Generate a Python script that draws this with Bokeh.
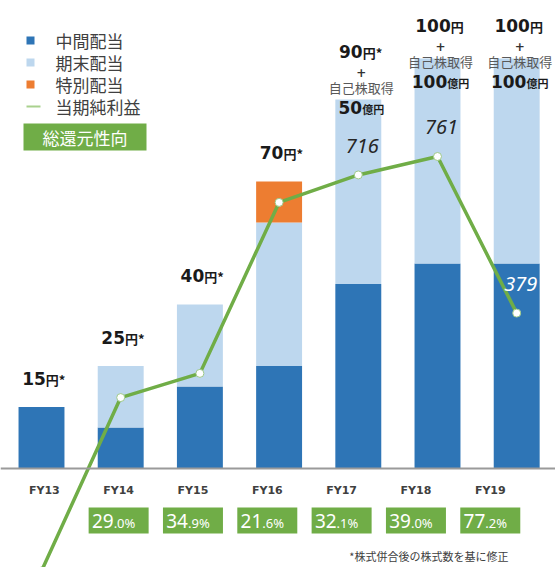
from bokeh.plotting import figure
from bokeh.models import ColumnDataSource, Range1d, Span
from bokeh.core.properties import value
from bokeh.embed import file_html
from bokeh.resources import INLINE

# ---------------- data ----------------
years = ["FY13", "FY14", "FY15", "FY16", "FY17", "FY18", "FY19"]
interim = [15, 10, 20, 25, 45, 50, 50]          # 中間配当 (円)
year_end = [0, 15, 20, 35, 45, 50, 50]          # 期末配当 (円)
special = [0, 0, 0, 10, 0, 0, 0]                # 特別配当 (円)
adjusted = [True, True, True, True, True, False, False]   # "*" 株式併合後修正
buyback = [0, 0, 0, 0, 50, 100, 100]            # 自己株取得 (億円)
net_profit = [-250, 173, 232, 649, 716, 761, 379]         # 当期純利益
net_profit_labels = ["", "", "", "", "716", "761", "379"]
payout = [None, 29.0, 34.9, 21.6, 32.1, 39.0, 77.2]       # 総還元性向 (%)
legend_labels = ["中間配当", "期末配当", "特別配当", "当期純利益"]
badge_label = "総還元性向"
buyback_label = "自己株取得"
footnote = "*株式併合後の株式数を基に修正"

# ---------------- style / layout ----------------
DARK, LIGHT, ORANGE, GREEN = "#2E75B6", "#BDD7EE", "#ED7D31", "#70AD47"
TXT = "#404040"
CJK = value("Noto Sans CJK JP")
BOLD_LAT = value("DejaVu Sans")
SANS = value("Noto Sans")

W, H = 555, 567
XS = 79.2            # px per category (bars)
X0 = -41 / XS
LS = 74.33           # px per category (labels row)
L0 = -43.8 / LS
YS = 4.1             # px per yen
BASE = 468           # px from top of y = 0
Y_END = BASE / YS
Y_START = -(H - BASE) / YS


def fx(px):
    return X0 + px / XS


def fy(px):
    return Y_END - px / YS


def dx(px):
    return px / XS


def dy(px):
    return px / YS


p = figure(width=W, height=H,
           x_range=Range1d(X0, X0 + W / XS),
           y_range=Range1d(Y_START, Y_END),
           output_backend="svg", toolbar_location=None,
           x_axis_location=None, y_axis_location=None,
           min_border=0, outline_line_color=None)
p.extra_x_ranges = {"lab": Range1d(L0, L0 + W / LS)}
p.extra_y_ranges = {"np": Range1d(Y_START * 10, Y_END * 10)}
p.grid.visible = False
p.title.visible = False
p.background_fill_color = "white"
p.border_fill_color = "white"

xs = list(range(len(years)))
totals = [a + b + c for a, b, c in zip(interim, year_end, special)]

# bars
src = ColumnDataSource(dict(x=xs, interim=interim, year_end=year_end, special=special))
p.vbar_stack(["interim", "year_end", "special"], x="x", width=0.58,
             fill_color=[DARK, LIGHT, ORANGE], line_color=None, source=src)

p.add_layout(Span(location=0, dimension="width", line_color="#9a9a9a", line_width=2))

# net profit line
p.line(xs, net_profit, y_range_name="np", line_color=GREEN, line_width=3.5)
p.scatter(xs, net_profit, y_range_name="np", size=8, fill_color="white",
          line_color="#9fc98a", line_width=1)

nl_x, nl_y, nl_t, nl_c = [], [], [], []
for i, lab in enumerate(net_profit_labels):
    if lab:
        nl_x.append(i + dx(4))
        nl_y.append(net_profit[i] + 29 / (YS / 10))
        nl_t.append(lab)
        center_yen = net_profit[i] / 10 + dy(29)
        nl_c.append("white" if center_yen < interim[i] else "#262626")
p.text(nl_x, nl_y, text=nl_t, y_range_name="np", text_color=nl_c,
       text_font=SANS, text_font_style="italic", text_font_size="20px",
       text_align="center", text_baseline="middle")

# dividend labels (all vertical positions are text centres)
DIG = 0.696 * 17
big_x, big_y, big_t = [], [], []
suf_x, suf_y, suf_t = [], [], []
plus_x, plus_y, bl_x, bl_y = [], [], [], []
am_x, am_y, am_sy, am_t, amsuf_t = [], [], [], [], []
for i in xs:
    digits = str(totals[i])
    suf = "円*" if adjusted[i] else "円"
    dw = len(digits) * DIG
    sw = 13 + (6 if adjusted[i] else 0)
    split = i + dx(-(dw + sw) / 2 + dw + 2)
    if buyback[i] == 0:
        c = totals[i] + dy(29)
    else:
        c = min(totals[i] + dy(48), fy(25))
        plus_x.append(i + dx(3))
        plus_y.append(c - dy(21))
        bl_x.append(i + dx(3))
        bl_y.append(c - dy(36))
        ad = str(buyback[i])
        aw = len(ad) * DIG
        am_x.append(i + dx(-(aw + 22) / 2 + aw + 3))
        am_y.append(c - dy(56))
        am_sy.append(c - dy(57.5))
        am_t.append(ad)
        amsuf_t.append("億円")
    big_x.append(split); big_y.append(c); big_t.append(digits)
    suf_x.append(split); suf_y.append(c - dy(1)); suf_t.append(suf)

p.text(big_x, big_y, text=big_t, text_font=BOLD_LAT, text_font_style="bold",
       text_font_size="17px", text_color="#1a1a1a", text_align="right",
       text_baseline="middle")
p.text(suf_x, suf_y, text=suf_t, text_font=CJK, text_font_style="bold",
       text_font_size="13px", text_color="#1a1a1a", text_align="left",
       text_baseline="middle")
p.text(plus_x, plus_y, text=["+"] * len(plus_x), text_font=BOLD_LAT,
       text_font_style="bold", text_font_size="12px", text_color="#333333",
       text_align="center", text_baseline="middle")
p.text(bl_x, bl_y, text=[buyback_label] * len(bl_x), text_font=CJK,
       text_font_size="13px", text_color="#595959", text_align="center",
       text_baseline="middle")
p.text(am_x, am_y, text=am_t, text_font=BOLD_LAT, text_font_style="bold",
       text_font_size="17px", text_color="#1a1a1a", text_align="right",
       text_baseline="middle")
p.text(am_x, am_sy, text=amsuf_t, text_font=CJK, text_font_style="bold",
       text_font_size="11px", text_color="#1a1a1a", text_align="left",
       text_baseline="middle")

# category labels
p.text(xs, [fy(490)] * len(xs), text=years, x_range_name="lab",
       text_font=BOLD_LAT, text_font_style="bold", text_font_size="11px",
       text_color=TXT, text_align="center", text_baseline="middle")

# payout badges
pb_x = [i for i in xs if payout[i] is not None]
p.rect(pb_x, [fy(520)] * len(pb_x), width=60, height=26, width_units="screen",
       height_units="screen", x_range_name="lab", fill_color=GREEN, line_color=None)
pbig, psmall = [], []
for i in pb_x:
    a, b = f"{payout[i]:.1f}".split(".")
    pbig.append(a)
    psmall.append("." + b + "%")
psplit = [i + (-5) / LS for i in pb_x]
p.text(psplit, [fy(520)] * len(pb_x), text=pbig, x_range_name="lab",
       text_font=SANS, text_font_size="19px", text_color="white",
       text_align="right", text_baseline="middle")
p.text(psplit, [fy(522.5)] * len(pb_x), text=psmall, x_range_name="lab",
       text_font=SANS, text_font_size="13px", text_color="white",
       text_align="left", text_baseline="middle")

# legend
leg_rows = [40, 62, 84, 106]
p.rect([fx(30)] * 3, [fy(r) for r in leg_rows[:3]], width=8, height=8,
       width_units="screen", height_units="screen",
       fill_color=[DARK, LIGHT, ORANGE], line_color=None)
p.segment(x0=[fx(26)], y0=[fy(leg_rows[3])], x1=[fx(40)], y1=[fy(leg_rows[3])],
          line_color="#a9d18e", line_width=2)
p.text([fx(55)] * 4, [fy(r) for r in leg_rows], text=legend_labels,
       text_font=CJK, text_font_size="17px", text_color=TXT,
       text_align="left", text_baseline="middle")
p.rect([fx(84.5)], [fy(136.5)], width=123, height=27, width_units="screen",
       height_units="screen", fill_color=GREEN, line_color=None)
p.text([fx(84.5)], [fy(136.5)], text=[badge_label], text_font=CJK,
       text_font_size="17px", text_color="white", text_align="center",
       text_baseline="middle")

# footnote
p.text([fx(508)], [fy(555)], text=[footnote], text_font=CJK,
       text_font_size="11px", text_color=TXT, text_align="right",
       text_baseline="middle")

open("out.html", "w").write(file_html(p, INLINE))
